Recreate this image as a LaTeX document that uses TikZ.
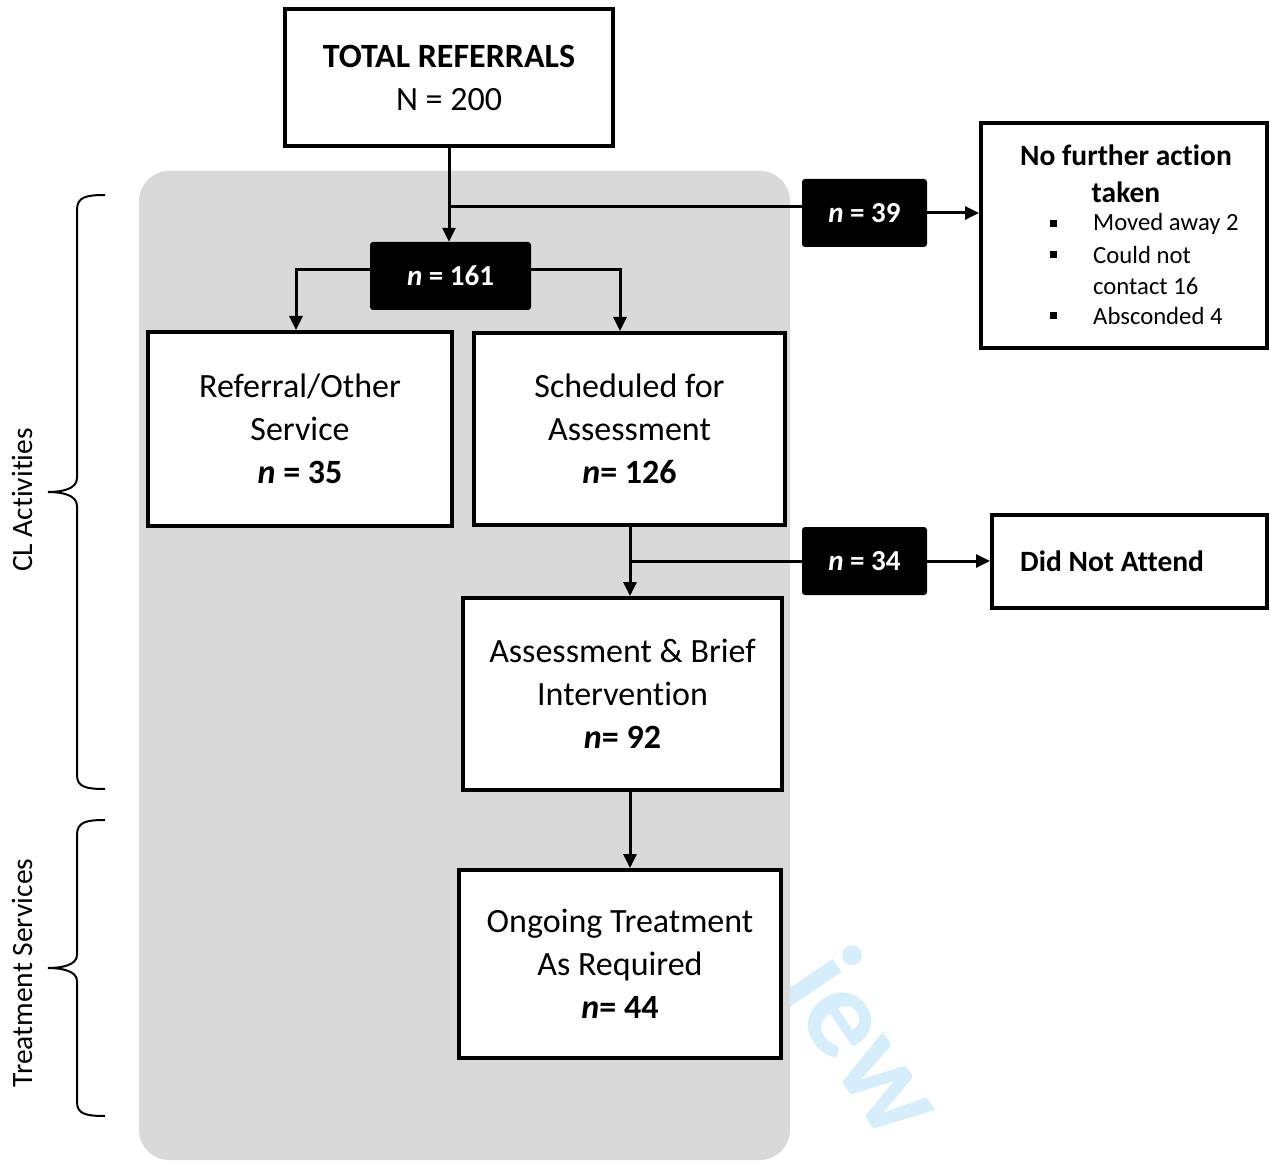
\documentclass[tikz,border=0pt]{standalone}
\usepackage{fontspec}
\setmainfont[Ligatures=CommonOff]{Carlito}
\usetikzlibrary{arrows.meta}
\definecolor{panel}{RGB}{217,217,217}
\definecolor{wmark}{RGB}{214,238,251}
\tikzset{
  box/.style={draw=black, line width=4pt, fill=white, align=center, inner sep=0pt,
    font=\fontsize{34}{43}\selectfont},
  tag/.style={fill=black, rounded corners=3pt, text=white, inner sep=0pt,
    font=\fontsize{29}{35}\selectfont\bfseries},
  conn/.style={line width=3pt, draw=black},
  arr/.style={conn, -{Triangle[length=14pt,width=13pt]}},
  brace/.style={line width=2pt, draw=black},
}
\begin{document}
\begin{tikzpicture}[x=1pt,y=-1pt]
\useasboundingbox (0,0) rectangle (1270,1161);
\fill[white] (0,0) rectangle (1270,1161);
% watermark
\node[text=wmark, rotate=-56, font=\fontsize{128}{128}\selectfont\bfseries, inner sep=0pt] (wm) at (868,1042) {iew};
% panel
\fill[panel, rounded corners=30pt] (139,171) rectangle (790,1160);
% boxes
\node[box, minimum width=328pt, minimum height=137pt] (total) at (449,77.5)
  {\textbf{TOTAL REFERRALS}\\N = 200};
\node[box, minimum width=304pt, minimum height=194pt] (referral) at (300,429)
  {Referral/Other\\Service\\\textbf{\textit{n} = 35}};
\node[box, minimum width=311pt, minimum height=192pt] (sched) at (629.5,429)
  {Scheduled for\\Assessment\\\textbf{\textit{n}= 126}};
\node[box, minimum width=319pt, minimum height=192pt] (assess) at (622.5,694)
  {Assessment \& Brief\\Intervention\\\textbf{\textit{n}= 92}};
\node[box, minimum width=322pt, minimum height=188pt] (ongoing) at (620,964)
  {Ongoing Treatment\\As Required\\\textbf{\textit{n}= 44}};
\node[box, minimum width=286pt, minimum height=225pt] (nfa) at (1124,235.5) {};
\node[box, minimum width=275pt, minimum height=93pt] (dna) at (1129.5,561.5) {};
\node[anchor=west, inner sep=0pt, font=\fontsize{29.5}{35}\selectfont\bfseries] (dnatext) at (1020,561) {Did Not Attend};
% NFA content
\node[inner sep=0pt, align=center, font=\fontsize{29.5}{37}\selectfont\bfseries] (nfatitle) at (1126,173.5) {No further action\\taken};
\foreach \yy/\tt/\nm in {224/Moved away 2/ba, 255/Could not/bb, 286/contact 16/bc, 316/Absconded 4/bd}{
  \node[anchor=west, inner sep=0pt, font=\fontsize{24.7}{30}\selectfont] (\nm) at (1093,\yy) {\tt};
}
\foreach \yy in {224,255,316}{
  \fill[black] (1050,\yy-3.5) rectangle (1057,\yy+3.5);
}
% tags
\node[tag, minimum width=161pt, minimum height=68pt] (n161) at (450.5,276) {\textit{n} = 161};
\node[tag, minimum width=125pt, minimum height=68pt] (n39) at (864.5,213) {\textit{n} = 39};
\node[tag, minimum width=125pt, minimum height=68pt] (n34) at (864.5,561) {\textit{n} = 34};
% connectors
\coordinate (b1) at (450,207);
\coordinate (b2) at (630,561);
\draw[arr] (total.south) -- (total.south |- n161.north);
\draw[conn] (b1) -- (n39.west |- b1);
\draw[arr] (n39.east) -- (nfa.west |- n39.east);
\draw[arr] ([yshift=6pt]n161.west) -| ([xshift=-4pt]referral.north);
\draw[arr] ([yshift=6pt]n161.east) -| ([xshift=-9.5pt]sched.north);
\draw[arr] (sched.south -| b2) -- (assess.north -| b2);
\draw[conn] (b2) -- (n34.west);
\draw[arr] (n34.east) -- (dna.west |- n34.east);
\draw[arr] (assess.south -| b2) -- (ongoing.north -| b2);
% braces
\draw[brace] (105,195) .. controls (86,195) and (77,197) .. (77,210) -- (77,478)
  .. controls (77,489) and (62,492) .. (48,492)
  .. controls (62,492) and (77,495) .. (77,506) -- (77,775)
  .. controls (77,787) and (86,789) .. (105,789);
\draw[brace] (105,820) .. controls (86,820) and (77,822) .. (77,835) -- (77,955)
  .. controls (77,965) and (62,968) .. (48,968)
  .. controls (62,968) and (77,971) .. (77,981) -- (77,1102)
  .. controls (77,1114) and (86,1116) .. (105,1116);
\node[rotate=90, inner sep=0pt, font=\fontsize{29.5}{35}\selectfont] (cl) at (22,500) {CL Activities};
\node[rotate=90, inner sep=0pt, font=\fontsize{29.5}{35}\selectfont] (ts) at (22,973) {Treatment Services};
\end{tikzpicture}
\end{document}
